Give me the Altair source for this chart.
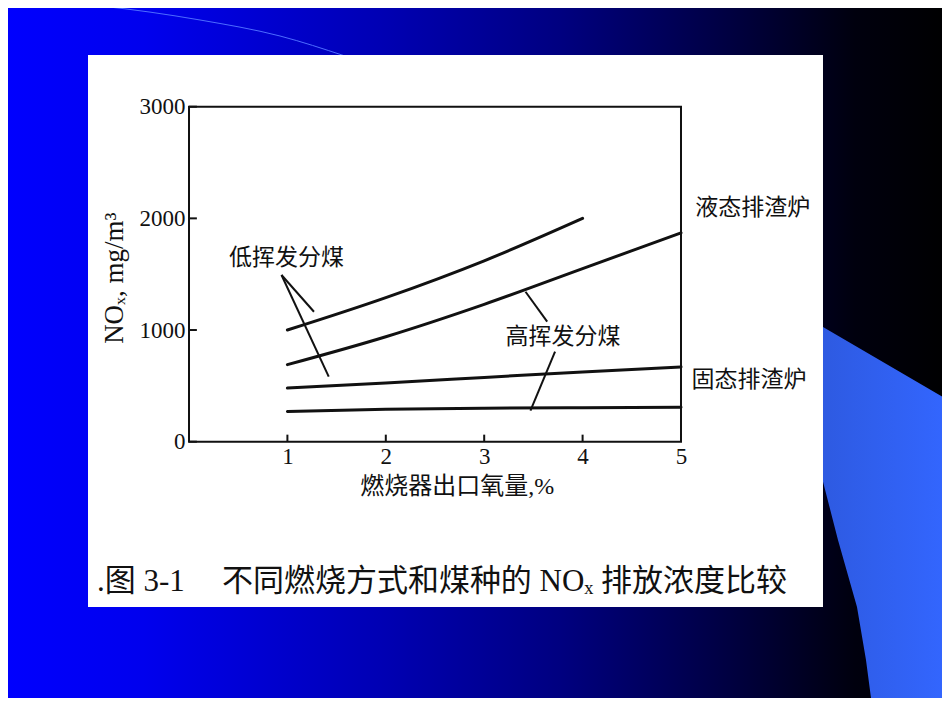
import altair as alt
import pandas as pd

# ---------------- values ----------------
oxygen = [1, 2, 3, 4, 5]                       # 燃烧器出口氧量, %
liquid_low_vol = [1000, 1290, 1620, 2000]      # 液态排渣炉, 低挥发分煤 (x = 1..4)
liquid_high_vol = [690, 940, 1230, 1550, 1870] # 液态排渣炉, 高挥发分煤
solid_low_vol = [480, 525, 575, 625, 670]      # 固态排渣炉, 低挥发分煤
solid_high_vol = [270, 290, 300, 305, 308]     # 固态排渣炉, 高挥发分煤
x_ticks = [1, 2, 3, 4, 5]
y_ticks = [0, 1000, 2000, 3000]

# annotation labels (data units)
label_text = ["低挥发分煤", "高挥发分煤", "液态排渣炉", "固态排渣炉"]
label_x = [0.99, 3.80, 5.73, 5.69]
label_y = [1645, 940, 2090, 552]

# leader lines (data units)
leader_id = ["a", "a", "b", "b", "c", "c", "d", "d"]
leader_x = [0.94, 1.27, 0.94, 1.42, 3.42, 3.64, 3.72, 3.47]
leader_y = [1493, 1164, 1493, 582, 1343, 1075, 806, 278]

caption_a = ".图 3-1"
caption_b = "不同燃烧方式和煤种的 NOₓ 排放浓度比较"
x_title = "燃烧器出口氧量,%"
y_title = "NOₓ, mg/m³"

# ---------------- layout helpers (page pixels -> data units) ----------------
X0, KX = 189.0, 98.4
Y0, KY = 441.7, 335.0 / 3000.0


def dx(p):
    return (p - X0) / KX


def dy(p):
    return (Y0 - p) / KY


SERIF = "Liberation Serif"
MIXED = "Liberation Serif, Noto Sans CJK SC"
CJK = "Noto Sans CJK SC"
INK = "#111111"

xs = alt.Scale(domain=[0, 5], nice=False, zero=False)
ys = alt.Scale(domain=[0, 3000], nice=False, zero=False)

ax_x = alt.Axis(values=x_ticks, title=x_title, titleFont=MIXED, titleFontSize=24,
                titleFontWeight="normal", titleColor=INK, titleX=267.7, titleY=45,
                titleBaseline="middle", titleAlign="center",
                labelFont=SERIF, labelFontSize=23, labelColor=INK, labelPadding=4,
                labelFlush=False, labelOverlap=False, labelBound=False,
                ticks=False, domain=False, grid=False, zindex=1, format="d")
ax_y = alt.Axis(values=y_ticks, title=y_title, titleFont=SERIF, titleFontSize=27,
                titleFontWeight="normal", titleColor=INK, titleX=-75, titleY=171,
                titleAngle=270, titleBaseline="middle", titleAlign="center",
                labelFont=SERIF, labelFontSize=23, labelColor=INK, labelPadding=4,
                labelFlush=False, labelOverlap=False, labelBound=False,
                ticks=False, domain=False, grid=False, zindex=1, format="d")


def X(f):
    return alt.X(f, type="quantitative", scale=xs, axis=ax_x)


def Y(f):
    return alt.Y(f, type="quantitative", scale=ys, axis=ax_y)


# ---------------- slide background decoration ----------------
bg_df = pd.DataFrame({"x0": [dx(0)], "x1": [dx(950)], "y0": [dy(0)], "y1": [dy(713)]})
bg_grad = alt.Gradient(gradient="linear", x1=0, x2=1, y1=0, y2=0, stops=[
    alt.GradientStop(color="#0000ff", offset=0.0),
    alt.GradientStop(color="#0000ee", offset=0.15),
    alt.GradientStop(color="#0000b4", offset=0.40),
    alt.GradientStop(color="#000080", offset=0.59),
    alt.GradientStop(color="#000040", offset=0.77),
    alt.GradientStop(color="#00000e", offset=0.90),
    alt.GradientStop(color="#000000", offset=1.0),
])
bg = alt.Chart(bg_df).mark_rect(color=bg_grad).encode(
    x=X("x0"), x2="x1", y=Y("y0"), y2="y1")

shape_py = [327, 400, 470, 540, 607, 660, 713]
shape_left = [800, 800, 820, 838, 857, 866, 873]
shape_right = [823, 948, 948, 948, 948, 948, 948]
shape_df = pd.DataFrame({"y": [dy(p) for p in shape_py],
                         "xl": [dx(p) for p in shape_left],
                         "xr": [dx(p) for p in shape_right]})
shape_grad = alt.Gradient(gradient="linear", x1=0, x2=1, y1=0, y2=0, stops=[
    alt.GradientStop(color="#2d58dc", offset=0.0),
    alt.GradientStop(color="#3366ff", offset=1.0),
])
shape = alt.Chart(shape_df).mark_area(orient="horizontal", color=shape_grad).encode(
    y=Y("y"), x=X("xl"), x2="xr")

arc_px = [10, 100, 200, 280, 345]
arc_py = [0, 6, 20, 36, 56]
arc_df = pd.DataFrame({"x": [dx(p) for p in arc_px], "y": [dy(p) for p in arc_py]})
arc = alt.Chart(arc_df).mark_line(color="#4d6cff", strokeWidth=1, interpolate="monotone").encode(
    x=X("x"), y=Y("y"))

panel_df = pd.DataFrame({"x0": [dx(88)], "x1": [dx(823)], "y0": [dy(55)], "y1": [dy(607)]})
panel = alt.Chart(panel_df).mark_rect(color="#ffffff").encode(
    x=X("x0"), x2="x1", y=Y("y0"), y2="y1")

# ---------------- chart frame and inward ticks ----------------
frame_df = pd.DataFrame({"x0": [0], "x1": [5], "y0": [0], "y1": [3000]})
frame = alt.Chart(frame_df).mark_rect(fillOpacity=0, stroke=INK, strokeWidth=2).encode(
    x=X("x0"), x2="x1", y=Y("y0"), y2="y1")

xt_df = pd.DataFrame({"x": x_ticks, "y0": [0] * len(x_ticks), "y1": [63] * len(x_ticks)})
xt = alt.Chart(xt_df).mark_rule(color=INK, strokeWidth=2).encode(
    x=X("x"), y=Y("y0"), y2="y1")
yt_df = pd.DataFrame({"y": y_ticks, "x0": [0] * len(y_ticks), "x1": [0.08] * len(y_ticks)})
yt = alt.Chart(yt_df).mark_rule(color=INK, strokeWidth=2).encode(
    y=Y("y"), x=X("x0"), x2="x1")

# ---------------- data curves ----------------
rows = []
for name, vals in [("liquid_low", liquid_low_vol), ("liquid_high", liquid_high_vol),
                   ("solid_low", solid_low_vol), ("solid_high", solid_high_vol)]:
    for xv, yv in zip(oxygen, vals):
        rows.append({"series": name, "o2": xv, "nox": yv})
curves_df = pd.DataFrame(rows)
curves = alt.Chart(curves_df).mark_line(color=INK, strokeWidth=3, interpolate="monotone",
                                        strokeCap="round").encode(
    x=X("o2"), y=Y("nox"), detail="series:N")

lead_df = pd.DataFrame({"id": leader_id, "x": leader_x, "y": leader_y})
leaders = alt.Chart(lead_df).mark_line(color=INK, strokeWidth=2).encode(
    x=X("x"), y=Y("y"), detail="id:N")

lab_df = pd.DataFrame({"t": label_text, "x": label_x, "y": label_y})
labels = alt.Chart(lab_df).mark_text(font=CJK, fontSize=23, color=INK, align="center",
                                     baseline="middle").encode(
    x=X("x"), y=Y("y"), text="t:N")

cap_df = pd.DataFrame({"t": [caption_a, caption_b], "x": [dx(97), dx(222)],
                       "y": [dy(582), dy(582)]})
caption = alt.Chart(cap_df).mark_text(font=MIXED, fontSize=31, color=INK, align="left",
                                      baseline="middle").encode(
    x=X("x"), y=Y("y"), text="t:N")

chart = alt.layer(bg, shape, arc, panel, frame, xt, yt, curves, leaders, labels, caption).properties(
    width=492, height=335, background="#00008a",
    padding={"left": 181, "top": 98.7, "right": 261, "bottom": 256},
    autosize=alt.AutoSizeParams(type="none"),
).configure_view(stroke=None)

chart.save("out.html", embed_options={"renderer": "svg", "actions": False})
